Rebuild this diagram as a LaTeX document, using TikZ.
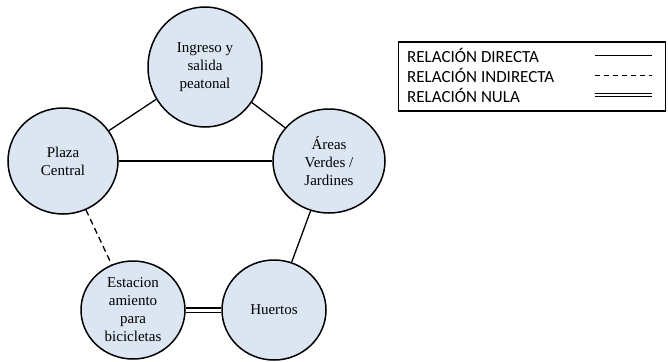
\documentclass[tikz,border=0pt]{standalone}
\usepackage{fontspec}
\setmainfont{Liberation Serif}
\newfontfamily\legendfont{Carlito}
\usetikzlibrary{shapes.geometric}
\definecolor{nodefill}{HTML}{DCE6F2}
\tikzset{
  place/.style={ellipse, draw=black, line width=1.5pt, fill=nodefill, inner sep=0pt,
    align=center, font=\fontsize{15}{18}\selectfont},
  link/.style={line width=1.3pt, black},
  legendtext/.style={anchor=west, inner sep=0pt, font=\legendfont\fontsize{17}{20}\selectfont},
}
\begin{document}
\begin{tikzpicture}[x=1pt,y=-1pt]
\useasboundingbox (0,0) rectangle (668,361);
\node[place, minimum width=114pt, minimum height=120pt] (ing) at (205,67) {Ingreso y\\salida\\peatonal};
\node[place, minimum width=110pt, minimum height=106pt] (pla) at (63,161) {Plaza\\Central};
\node[place, minimum width=112pt, minimum height=104pt] (are) at (329,161) {Áreas\\Verdes /\\Jardines};
\node[place, minimum width=104pt, minimum height=98pt] (est) at (133,310) {Estacion\\amiento\\para\\bicicletas};
\node[place, minimum width=104pt, minimum height=100pt] (hue) at (274,310) {Huertos};
\draw[link] (ing) -- (pla);
\draw[link] (ing) -- (are);
\draw[link] (pla) -- (are);
\draw[link, dash pattern=on 6pt off 4pt] (pla) -- (est);
\draw[link] (are) -- (hue);
\draw[double, double distance=3pt, line width=1.1pt] (est) -- (hue);
% legend
\node[draw=black, line width=1.2pt, minimum width=267pt, minimum height=69pt, inner sep=0pt] (box) at (532,76.5) {};
\node[legendtext] (t1) at (407,55) {RELACIÓN DIRECTA};
\node[legendtext] (t2) at (407,75) {RELACIÓN INDIRECTA};
\node[legendtext] (t3) at (407,95) {RELACIÓN NULA};
\coordinate (a1) at (595,55); \coordinate (b1) at (652,55);
\coordinate (a2) at (595,75); \coordinate (b2) at (652,75);
\coordinate (a3) at (595,95); \coordinate (b3) at (652,95);
\draw[line width=1pt] (a1) -- (b1);
\draw[line width=1pt, dash pattern=on 5pt off 4pt] (a2) -- (b2);
\draw[double, double distance=2pt, line width=0.9pt] (a3) -- (b3);
\end{tikzpicture}
\end{document}
